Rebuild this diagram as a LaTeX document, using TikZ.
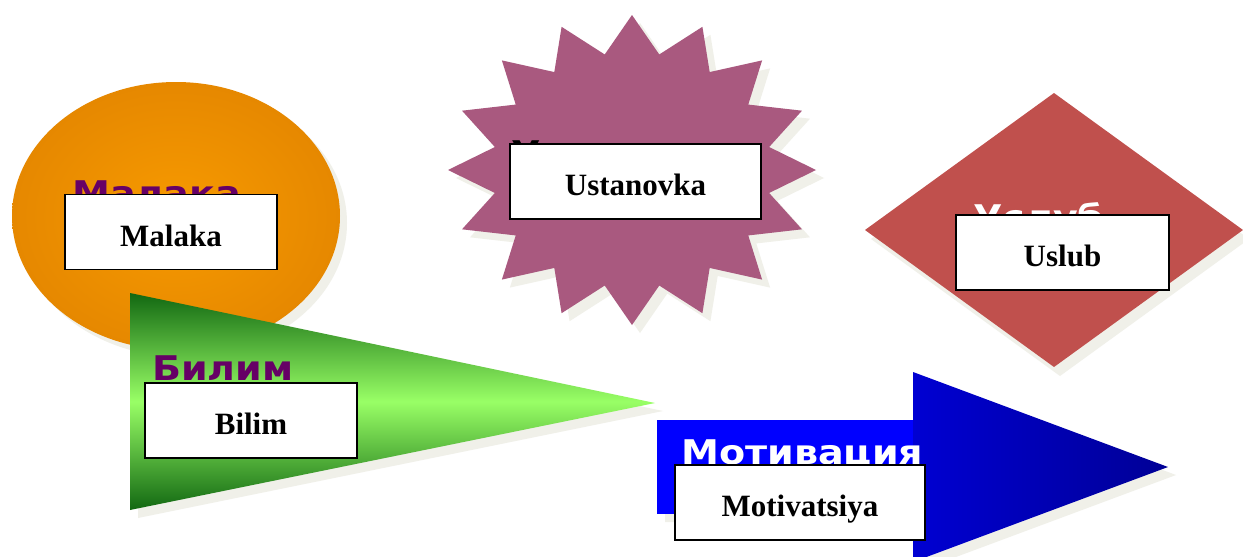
\documentclass[tikz,border=0pt]{standalone}
\usepackage{fontspec}
\setmainfont{Liberation Serif}
\newfontfamily\cyrfont[FakeStretch=1.12]{DejaVu Sans}

\definecolor{shadowgray}{RGB}{240,240,233}
\definecolor{orangelight}{RGB}{247,154,0}
\definecolor{orangedark}{RGB}{230,136,0}
\definecolor{starpink}{RGB}{169,89,127}
\definecolor{diamondred}{RGB}{192,80,77}
\definecolor{greendark}{RGB}{18,104,18}
\definecolor{greenlight}{RGB}{153,255,102}
\definecolor{headblue}{RGB}{0,0,210}
\definecolor{tipblue}{RGB}{0,0,150}
\definecolor{rupurple}{RGB}{102,0,102}

\begin{document}
\begin{tikzpicture}[x=1pt, y=-1pt,
	label box/.style={draw, line width=1.5pt, fill=white, inner sep=0pt,
		minimum height=75pt, text height=28pt, text depth=0pt,
		font=\fontsize{31}{36}\selectfont\bfseries},
	ru text/.style={anchor=base west, inner sep=0pt,
		font=\cyrfont\fontsize{34}{40}\selectfont\bfseries}]
		\fill [white] (0, 0) rectangle (1243, 557);
		\useasboundingbox (0, 0) rectangle (1243, 557);

		% Malaka
		\fill [shadowgray] (183, 223) ellipse [x radius=164, y radius=134];
		\shade [inner color=orangelight, outer color=orangedark] (176, 216)
		ellipse [x radius=164, y radius=134];
		\node [ru text, rupurple] (malakaru) at (72, 205) {Малака};
		\node [label box, minimum width=212pt] (malaka) at (171, 232)
		{Malaka};

		% Ustanovka
		\foreach \s/\c in {8/shadowgray, 0/starpink}
		\fill [\c, shift={(\s, \s)}] (632, 15) \foreach \k in {1,...,31}
		{ -- ({632+184*(1-0.24*mod(\k,2))*sin(\k*11.25)},
		{170-155*(1-0.24*mod(\k,2))*cos(\k*11.25)})} -- cycle;
		\node [ru text, black] (ustanovkaru) at (511, 165) {Установка};
		\node [label box, minimum width=251pt] (ustanovka) at (635.5, 181.5)
		{Ustanovka};

		% Uslub
		\fill [shadowgray] (1060, 102) -- (1249, 239) -- (1060, 376)
		-- (871, 239) -- cycle;
		\fill [diamondred] (1054, 93) -- (1243, 230) -- (1054, 367)
		-- (865, 230) -- cycle;
		\node [ru text, white] (uslubru) at (973, 229) {Услуб};
		\node [label box, minimum width=213pt] (uslub) at (1062.5, 252.5)
		{Uslub};

		% Bilim
		\fill [shadowgray] (138, 301) -- (663, 411) -- (138, 518) -- cycle;
		\shade [top color=greendark, bottom color=greendark,
		middle color=greenlight] (130, 293) -- (655, 403) -- (130, 510)
		-- cycle;
		\node [ru text, rupurple] (bilimru) at (152, 380) {Билим};
		\node [label box, minimum width=212pt] (bilim) at (251, 420.5)
		{Bilim};

		% Motivatsiya
		\fill [shadowgray] (665, 428) -- (921, 428) -- (921, 380)
		-- (1176, 475) -- (921, 570) -- (921, 522) -- (665, 522) -- cycle;
		\fill [blue] (657, 420) rectangle (913, 514);
		\shade [left color=headblue, right color=tipblue] (913, 372)
		-- (1168, 467) -- (913, 562) -- cycle;
		\node [ru text, white] (motivatsiyaru) at (681, 464) {Мотивация};
		\node [label box, minimum width=250pt] (motivatsiya) at (800, 502.5)
		{Motivatsiya};
	\end{tikzpicture}
\end{document}
